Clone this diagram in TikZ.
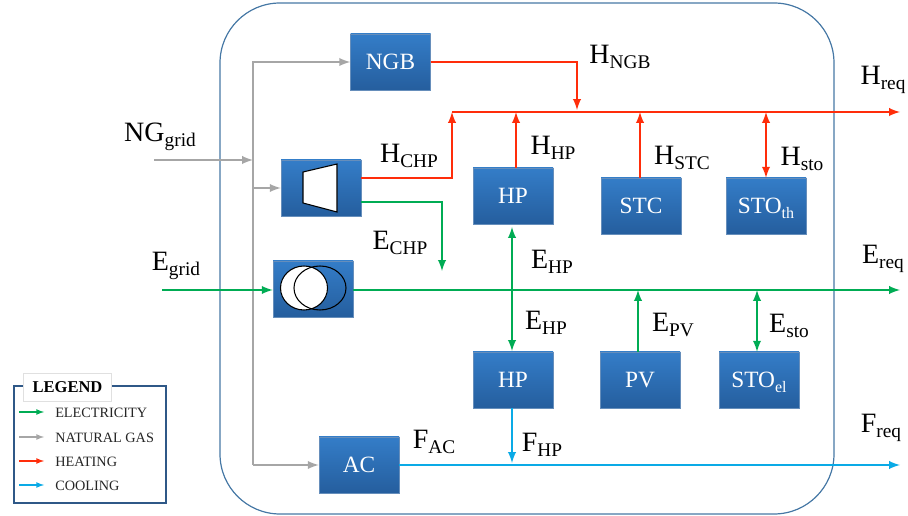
\documentclass[tikz,border=0pt]{standalone}
\usepackage{fontspec}
\setmainfont{Liberation Serif}
\usetikzlibrary{arrows,shapes,positioning,calc,shadows}
\definecolor{elec}{RGB}{0,172,84}
\definecolor{gas}{RGB}{166,166,166}
\definecolor{heat}{RGB}{255,45,10}
\definecolor{cool}{RGB}{10,170,230}
\definecolor{boxtop}{RGB}{52,125,200}
\definecolor{boxbot}{RGB}{37,94,158}
\definecolor{frame}{RGB}{70,120,165}
\definecolor{legframe}{RGB}{47,88,135}
\newcommand{\flowlab}[2]{#1\raisebox{-0.4ex}{\fontsize{14.5pt}{15pt}\selectfont #2}}
\newcommand{\unitsub}[1]{\smash{\raisebox{-0.5ex}{\fontsize{12pt}{12pt}\selectfont #1}}}
\begin{document}
\begin{tikzpicture}[x=0.75pt,y=-0.75pt,>=latex,
        unit/.style={rectangle, draw=boxbot!70!white, top color=boxtop, bottom color=boxbot, text=white,
                    minimum width=60pt, minimum height=42pt, inner sep=0pt, font=\fontsize{17.5pt}{18pt}\selectfont,
                    drop shadow={shadow xshift=0.6pt, shadow yshift=-0.6pt, opacity=0.35}},
        flow/.style={font=\fontsize{21pt}{22pt}\selectfont, inner sep=0pt},
        legtext/.style={anchor=west, inner sep=0pt, font=\fontsize{10.7pt}{11pt}\selectfont, text=black!85},
        line/.style={->, line width=1.8pt}
      ]
        \useasboundingbox (0,0) rectangle (908,516);
        \draw[frame, line width=0.9pt, rounded corners=45pt] (220,3) rectangle (834,514);

        % units
        \node[unit] (ngb) at (390.5,62) {NGB};
        \node[unit] (chp) at (321,188) {};
        \node[unit] (trafo) at (313,289) {};
        \node[unit] (hptop) at (513,196) {HP};
        \node[unit] (stc) at (641,206) {STC};
        \node[unit] (stoth) at (766,206) {STO\unitsub{th}};
        \node[unit] (hpbot) at (513,380) {HP};
        \node[unit] (pv) at (640,380) {PV};
        \node[unit] (stoel) at (759,380) {STO\unitsub{el}};
        \node[unit] (ac) at (359,465) {AC};

        % icons
        \draw[black, fill=white, line width=0.8pt] (303,172) -- (337,164) -- (337,212) -- (303,203) -- cycle;
        \draw[black, fill=white, line width=0.8pt] (304,288) ellipse (23.5 and 22);
        \draw[black, line width=0.8pt] (320,288) ellipse (26 and 22);

        % free ends and bends
        \coordinate (nggrid) at (154,160);
        \coordinate (gastop) at (253,62);
        \coordinate (gasmid) at (253,160);
        \coordinate (gaschp) at (253,188);
        \coordinate (gasac) at (253,465);
        \coordinate (egrid) at (162,290);
        \coordinate (ereq) at (900,290);
        \coordinate (hbus) at (452,112);
        \coordinate (hreq) at (900,112);
        \coordinate (freq) at (900,465);

        % natural gas
        \draw[line, gas] (nggrid) -- (gasmid);
        \draw[line, gas] (gasac) -- (gastop) -- (ngb.west);
        \draw[line, gas] (gaschp) -- (chp.west);
        \draw[line, gas] (gasac) -- (ac.west);

        % heating
        \draw[line, heat] (hbus) -- (hreq);
        \draw[line, heat] (ngb.east) -| (577,110);
        \draw[line, heat] (chp.east|-0,178) -- (452,178) -- (hbus);
        \draw[line, heat] (hptop.north-|516,0) -- (516,112);
        \draw[line, heat] (stc.north-|640,0) -- (640,112);
        \draw[line, heat, <->] (stoth.north) -- (766,112);

        % electricity
        \draw[line, elec] (egrid) -- (trafo.west|-egrid);
        \draw[line, elec] (trafo.east|-ereq) -- (ereq);
        \draw[line, elec] (chp.east|-0,202) -- (442,202) -- (442,271);
        \draw[line, elec, <->] (512,227) -- (512,351);
        \draw[line, elec] (pv.north-|638,0) -- (638,290);
        \draw[line, elec, <->] (stoel.north-|757,0) -- (757,290);

        % cooling
        \draw[line, cool] (ac.east) -- (freq);
        \draw[line, cool] (hpbot.south-|512,0) -- (512,463);

        % labels
        \node[flow] (lngb) at (620,57) {\flowlab{H}{NGB}};
        \node[flow] (lhreq) at (883,80) {\flowlab{H}{req}};
        \node[flow] (lnggrid) at (160,137) {\flowlab{NG}{grid}};
        \node[flow] (lhchp) at (409,156) {\flowlab{H}{CHP}};
        \node[flow] (lhhp) at (553,148) {\flowlab{H}{HP}};
        \node[flow] (lhstc) at (682,158) {\flowlab{H}{STC}};
        \node[flow] (lhsto) at (802,159) {\flowlab{H}{sto}};
        \node[flow] (lechp) at (400,243) {\flowlab{E}{CHP}};
        \node[flow] (lehptop) at (552,262) {\flowlab{E}{HP}};
        \node[flow] (legrid) at (176,266) {\flowlab{E}{grid}};
        \node[flow] (lereq) at (883,259) {\flowlab{E}{req}};
        \node[flow] (lehpbot) at (546,323) {\flowlab{E}{HP}};
        \node[flow] (lepv) at (673,325) {\flowlab{E}{PV}};
        \node[flow] (lesto) at (789,326) {\flowlab{E}{sto}};
        \node[flow] (lfac) at (434,442) {\flowlab{F}{AC}};
        \node[flow] (lfhp) at (542,445) {\flowlab{F}{HP}};
        \node[flow] (lfreq) at (881,428) {\flowlab{F}{req}};

        % legend
        \draw[legframe, line width=1.6pt, fill=white, drop shadow={shadow xshift=0.6pt, shadow yshift=-0.6pt, opacity=0.3}] (14,386) rectangle (166,503);
        \node[draw=black!12, fill=white, minimum width=66pt, minimum height=21pt, inner sep=0pt,
              font=\bfseries\fontsize{12.4pt}{13pt}\selectfont] (legend) at (67.5,387) {LEGEND};
        \foreach \i/\yy/\col/\txt in {1/412/elec/ELECTRICITY, 2/437/gas/NATURAL GAS, 3/461/heat/HEATING, 4/485/cool/COOLING} {
          \node[legtext] (leg\i) at (55,\yy+1) {\txt};
          \coordinate (start\i) at (19,\yy);
          \coordinate (end\i) at (44,\yy);
          \draw[->, line width=1pt, \col] (start\i) -- (end\i);
        }
      \end{tikzpicture}
\end{document}
